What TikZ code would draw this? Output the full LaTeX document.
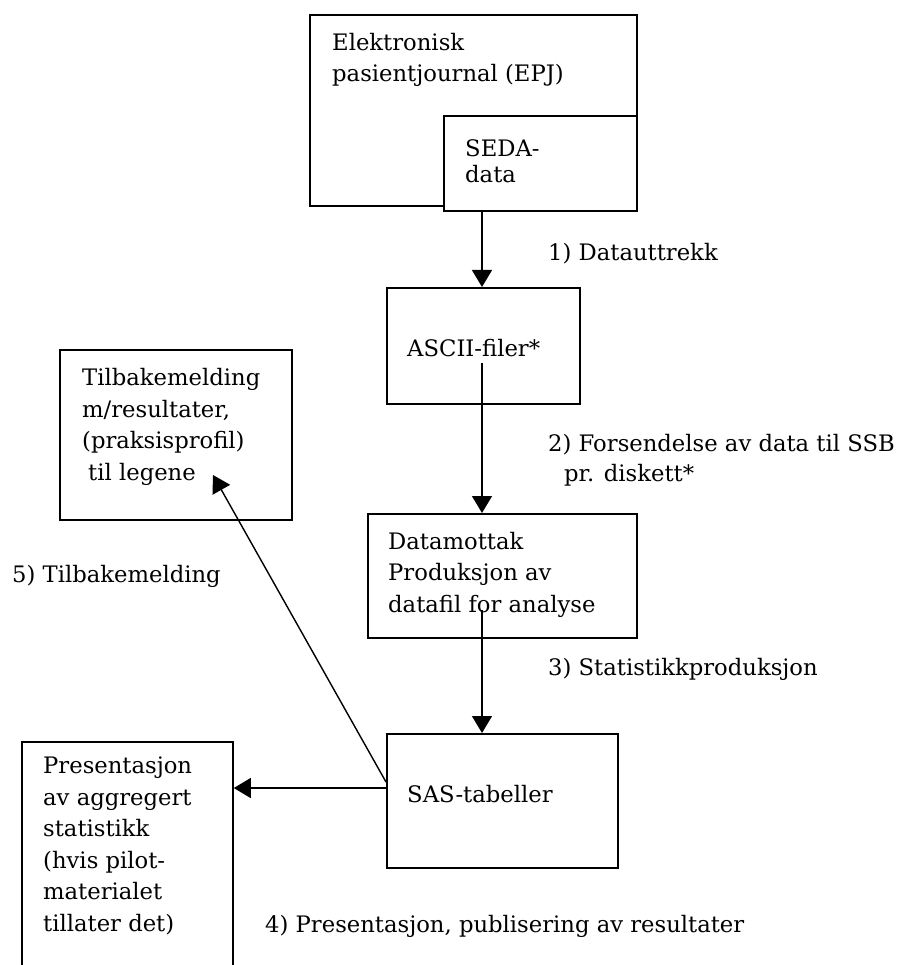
\documentclass[tikz,border=0pt]{standalone}
\usepackage{fontspec}
\setmainfont{DejaVu Serif}
\usetikzlibrary{arrows.meta}
\begin{document}
\begin{tikzpicture}[x=1pt,y=-1pt,
  boxnode/.style={draw,line width=1.8pt,inner sep=0pt,anchor=north west,fill=white},
  txt/.style={inner sep=0pt,anchor=base west,align=left,font=\fontsize{22.7}{31.5}\selectfont},
  arr/.style={line width=1.4pt,-{Triangle[width=20pt,length=17pt]}}]
\useasboundingbox (0,0) rectangle (896,965);
\clip (0,0) rectangle (896,965);
% boxes
\node[boxnode,minimum width=327pt,minimum height=191pt] (epj) at (309,14) {};
\node[boxnode,minimum width=193pt,minimum height=95pt] (seda) at (443,115) {};
\node[boxnode,minimum width=193pt,minimum height=116pt] (ascii) at (386,287) {};
\node[boxnode,minimum width=269pt,minimum height=124pt] (datam) at (367,513) {};
\node[boxnode,minimum width=231pt,minimum height=134pt] (sas) at (386,733) {};
\node[boxnode,minimum width=232pt,minimum height=170pt] (tilb) at (59,349) {};
\node[boxnode,minimum width=211pt,minimum height=260pt] (pres) at (21,741) {};
% box texts (base anchor = baseline of last line)
\node[txt] (tepj) at (332,82) {Elektronisk\\pasientjournal (EPJ)};
\node[txt,font=\fontsize{22.7}{26}\selectfont] (tseda) at (465,183) {SEDA-\\data};
\node[txt] (tascii) at (407,356) {ASCII-filer*};
\node[txt] (tdatam) at (388,612) {Datamottak\\Produksjon av\\datafil for analyse};
\node[txt] (tsas) at (407,802) {SAS-tabeller};
\node[txt] (ttilb) at (82,480) {Tilbakemelding\\m/resultater,\\(praksisprofil)\\\hspace*{6pt}til legene};
\node[txt] (tpres) at (43,931) {Presentasjon\\av aggregert\\statistikk\\(hvis pilot-\\materialet\\tillater det)};
% labels
\node[txt] (l1) at (548,261) {1) Datauttrekk};
\node[txt,font=\fontsize{22.7}{30}\selectfont] (l2) at (548,481) {2) Forsendelse av data til SSB\\\hspace*{16pt}pr. diskett*};
\node[txt] (l3) at (548,675) {3) Statistikkproduksjon};
\node[txt] (l5) at (12,582) {5) Tilbakemelding};
\node[txt] (l4) at (265,932) {4) Presentasjon, publisering av resultater};
% connectors
\coordinate (ax) at (482,0);
\draw[arr] (seda.south -| ax) -- (ascii.north -| ax);
\coordinate (a2s) at (482,363);
\draw[arr] (a2s) -- (datam.north -| a2s);
\coordinate (a3s) at (482,610);
\draw[arr] (a3s) -- (sas.north -| a3s);
\coordinate (a4y) at (0,788);
\draw[arr] (sas.west |- a4y) -- (pres.east |- a4y);
\coordinate (a5y) at (0,782);
\coordinate (a5e) at (213,475);
\draw[arr] (sas.west |- a5y) -- (a5e);
\end{tikzpicture}
\end{document}
